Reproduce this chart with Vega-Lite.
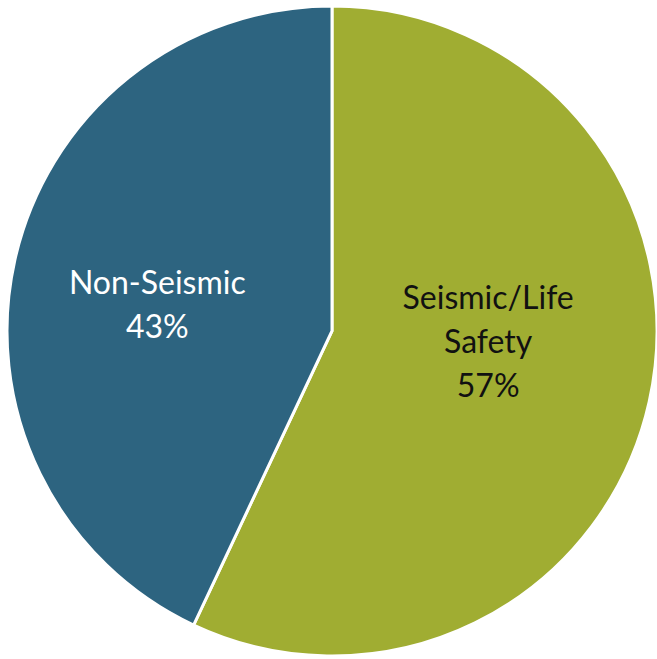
{
  "$schema": "https://vega.github.io/schema/vega-lite/v6.json",
  "width": 657,
  "height": 659,
  "autosize": {"type": "fit", "contains": "padding"},
  "padding": {"left": 7, "top": 3, "right": 0, "bottom": 0},
  "background": "white",
  "data": {
    "values": [
      {"name": "Seismic/Life Safety", "label": "Seismic/Life\nSafety\n57%", "value": 57, "order": 1},
      {"name": "Non-Seismic", "label": "Non-Seismic\n43%", "value": 43, "order": 2}
    ]
  },
  "encoding": {
    "theta": {"field": "value", "type": "quantitative", "stack": true},
    "order": {"field": "order", "type": "ordinal"}
  },
  "layer": [
    {
      "mark": {"type": "arc", "outerRadius": 325, "stroke": "white", "strokeWidth": 3},
      "encoding": {
        "color": {
          "field": "name",
          "type": "nominal",
          "scale": {"domain": ["Seismic/Life Safety", "Non-Seismic"], "range": ["#A0AD32", "#2D6480"]},
          "legend": null
        }
      }
    },
    {
      "mark": {"type": "text", "radius": 160, "dy": -67, "font": "Lato", "fontSize": 32, "lineBreak": "\n", "lineHeight": 44, "fill": "#111111", "align": "center", "baseline": "middle"},
      "encoding": {
        "text": {"field": "label"},
        "opacity": {"condition": {"test": "datum.name == 'Seismic/Life Safety'", "value": 1}, "value": 0}
      }
    },
    {
      "mark": {"type": "text", "radius": 179, "dy": -8, "font": "Lato", "fontSize": 32, "lineBreak": "\n", "lineHeight": 44, "fill": "white", "align": "center", "baseline": "middle"},
      "encoding": {
        "text": {"field": "label"},
        "opacity": {"condition": {"test": "datum.name == 'Non-Seismic'", "value": 1}, "value": 0}
      }
    }
  ],
  "view": {"stroke": null}
}
